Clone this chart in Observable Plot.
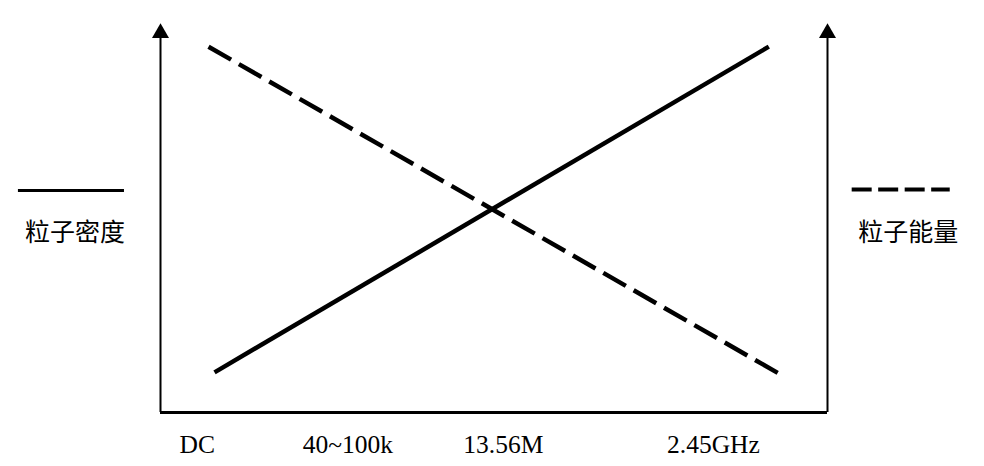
<!DOCTYPE html>
<html>
<head>
<meta charset="utf-8">
<script src="https://cdn.jsdelivr.net/npm/d3@7"></script>
<script src="https://cdn.jsdelivr.net/npm/@observablehq/plot@0.6"></script>
<style>
  html, body { margin: 0; padding: 0; background: #fff; }
  #chart svg { display: block; }
</style>
</head>
<body>
<div id="chart"></div>
<script>
// Tick categories and their positions on the (unitless) frequency axis
const tickLabels = ["DC", "40~100k", "13.56M", "2.45GHz"];
const tickPositions = [0.55, 2.81, 5.14, 8.29];

// 粒子密度 (particle density) — solid line, rising
const densityX = [0.81, 9.12];
const densityY = [1.03, 9.38];

// 粒子能量 (particle energy) — dashed line, falling
const energyX = [0.72, 9.27];
const energyY = [9.38, 1.0];

// Legend labels
const legendLabels = ["粒子密度", "粒子能量"];

const density = densityX.map((x, i) => ({x, y: densityY[i]}));
const energy = energyX.map((x, i) => ({x, y: energyY[i]}));
const ticks = tickLabels.map((label, i) => ({label, x: tickPositions[i]}));

const serif = "'Liberation Serif', 'Times New Roman', serif";
const cjk = "'Noto Sans CJK SC', sans-serif";

const chart = Plot.plot({
  width: 984,
  height: 466,
  marginLeft: 160,
  marginRight: 157,
  marginTop: 22,
  marginBottom: 54,
  x: {domain: [0, 10], axis: null},
  y: {domain: [0, 10], axis: null},
  style: {background: "#fff", overflow: "visible"},
  marks: [
    // axes
    Plot.ruleX([0, 10], {y1: 0, y2: 9.6, stroke: "#000", strokeWidth: 2}),
    Plot.ruleY([0], {x1: 0, x2: 10, stroke: "#000", strokeWidth: 3}),
    Plot.dot([0, 10], {x: d => d, y: 9.73, symbol: "triangle", r: 6.3, fill: "#000", stroke: "none"}),
    // data lines
    Plot.line(density, {x: "x", y: "y", stroke: "#000", strokeWidth: 4.5, strokeLinecap: "butt"}),
    Plot.line(energy, {x: "x", y: "y", stroke: "#000", strokeWidth: 4.5, strokeLinecap: "butt", strokeDasharray: "26,9"}),
    // tick labels
    Plot.text(ticks, {x: "x", y: 0, text: "label", dy: 32, fontSize: 25.5, fontFamily: serif, fill: "#000"}),
    // legend: left (solid)
    Plot.ruleY([5.69], {x1: -2.13, x2: -0.54, stroke: "#000", strokeWidth: 3}),
    Plot.text([legendLabels[0]], {x: -1.28, y: 4.59, text: d => d, fontSize: 25, fontFamily: cjk, fill: "#000"}),
    // legend: right (dashed)
    Plot.ruleY([5.72], {x1: 10.37, x2: 11.84, stroke: "#000", strokeWidth: 4, strokeDasharray: "20,6.5"}),
    Plot.text([legendLabels[1]], {x: 11.21, y: 4.59, text: d => d, fontSize: 25, fontFamily: cjk, fill: "#000"})
  ]
});
document.getElementById("chart").appendChild(chart);
</script>
</body>
</html>
